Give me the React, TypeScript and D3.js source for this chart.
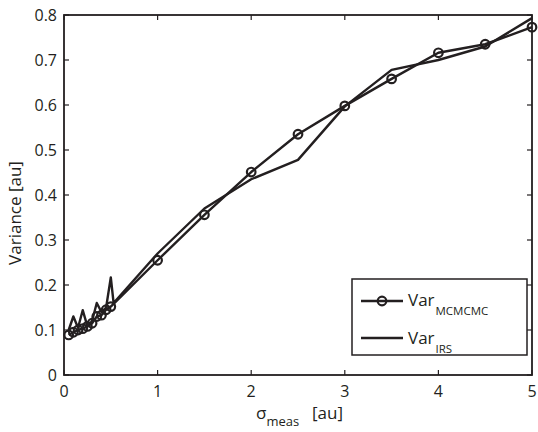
import React from "react";
import * as d3 from "d3";

const xMC = [0.05, 0.1, 0.15, 0.2, 0.25, 0.3, 0.35, 0.4, 0.45, 0.5, 1, 1.5, 2, 2.5, 3, 3.5, 4, 4.5, 5];
const yMC = [0.089, 0.095, 0.1, 0.103, 0.108, 0.115, 0.13, 0.133, 0.145, 0.152, 0.255, 0.356, 0.451, 0.535, 0.598, 0.658, 0.716, 0.735, 0.773];
const xIRS = [0.05, 0.1, 0.15, 0.2, 0.25, 0.3, 0.35, 0.4, 0.45, 0.5, 0.53, 1, 1.5, 2, 2.5, 3, 3.5, 4, 4.5, 5];
const yIRS = [0.1, 0.13, 0.105, 0.144, 0.108, 0.12, 0.16, 0.14, 0.15, 0.217, 0.16, 0.27, 0.37, 0.435, 0.478, 0.597, 0.678, 0.7, 0.73, 0.793];
const xTicks = [0, 1, 2, 3, 4, 5];
const yTicks = [0, 0.1, 0.2, 0.3, 0.4, 0.5, 0.6, 0.7, 0.8];

const W = 538, H = 432;
const L = 64, R = 532, T = 15, B = 375;
const FONT = "'Open Sans', 'Noto Sans', sans-serif";

export default function App() {
  const x = d3.scaleLinear().domain([0, 5]).range([L, R]);
  const y = d3.scaleLinear().domain([0, 0.8]).range([B, T]);
  const mc = xMC.map((v, i) => [v, yMC[i]] as [number, number]);
  const irs = xIRS.map((v, i) => [v, yIRS[i]] as [number, number]);
  const line = d3.line<[number, number]>().x(d => x(d[0])).y(d => y(d[1]));
  const tl = 5;
  return (
    <svg width={W} height={H} style={{ position: "absolute", left: 0, top: 0, background: "#fff" }} fontFamily={FONT}>
      <rect x={0} y={0} width={W} height={H} fill="#fff" />
      <g stroke="#231f20" strokeWidth={1.2}>
        {xTicks.map(t => (
          <g key={"xt" + t}>
            <line x1={x(t)} x2={x(t)} y1={B} y2={B - tl} />
            <line x1={x(t)} x2={x(t)} y1={T} y2={T + tl} />
          </g>
        ))}
        {yTicks.map(t => (
          <g key={"yt" + t}>
            <line x1={L} x2={L + tl} y1={y(t)} y2={y(t)} />
            <line x1={R} x2={R - tl} y1={y(t)} y2={y(t)} />
          </g>
        ))}
      </g>
      <path d={line(irs) || ""} fill="none" stroke="#231f20" strokeWidth={2.4} strokeLinejoin="round" />
      <path d={line(mc) || ""} fill="none" stroke="#231f20" strokeWidth={2.4} strokeLinejoin="round" />
      {mc.map((d, i) => (
        <circle key={i} cx={x(d[0])} cy={y(d[1])} r={4.3} fill="none" stroke="#231f20" strokeWidth={2.2} />
      ))}
      <rect x={L} y={T} width={R - L} height={B - T} fill="none" stroke="#231f20" strokeWidth={1.8} />
      <g fontSize={16} fill="#231f20">
        {xTicks.map(t => (
          <text key={"xl" + t} x={x(t)} y={397} textAnchor="middle">{t}</text>
        ))}
        {yTicks.map(t => (
          <text key={"yl" + t} x={57} y={y(t) + 5.5} textAnchor="end">{t === 0 ? "0" : t.toFixed(1)}</text>
        ))}
      </g>
      <text transform={`translate(21,213) rotate(-90)`} textAnchor="middle" fontSize={17} fill="#231f20">Variance [au]</text>
      <text x={256} y={419} fontSize={17} fill="#231f20">
        σ<tspan fontSize={13} dy={7}>meas</tspan>
      </text>
      <text x={312} y={419} fontSize={17} fill="#231f20">[au]</text>
      <rect x={352} y={279} width={175} height={76} fill="#fff" stroke="#231f20" strokeWidth={1.5} />
      <line x1={361} x2={403} y1={301} y2={301} stroke="#231f20" strokeWidth={2.4} />
      <circle cx={382} cy={301} r={4.3} fill="none" stroke="#231f20" strokeWidth={2.2} />
      <line x1={361} x2={403} y1={338} y2={338} stroke="#231f20" strokeWidth={2.4} />
      <text x={408} y={306} fontSize={17} fill="#231f20">Var<tspan fontSize={11.5} dx={1} dy={9}>MCMCMC</tspan></text>
      <text x={408} y={344} fontSize={17} fill="#231f20">Var<tspan fontSize={11.5} dx={1} dy={9}>IRS</tspan></text>
    </svg>
  );
}
